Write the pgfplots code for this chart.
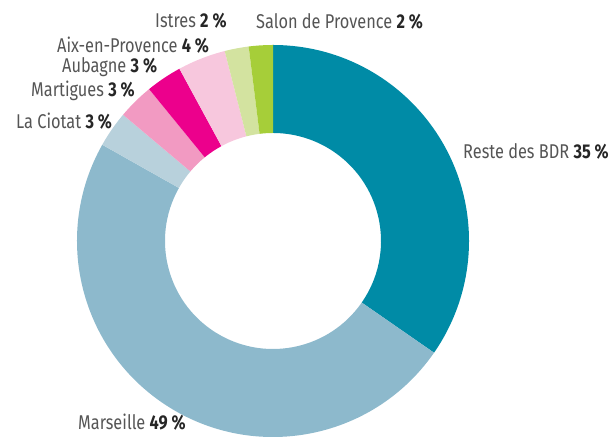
\documentclass[border=0pt]{standalone}
\usepackage{pgfplots}
\usepackage{pgfplotstable}
\pgfplotsset{compat=1.18}
\usepackage{fontspec}
\setmainfont{Fira Sans}[FakeStretch=0.82]
\definecolor{c0}{HTML}{008BA6}
\definecolor{c1}{HTML}{8DB9CC}
\definecolor{c2}{HTML}{B8D1DC}
\definecolor{c3}{HTML}{F29AC2}
\definecolor{c4}{HTML}{EC008C}
\definecolor{c5}{HTML}{F7C7DD}
\definecolor{c6}{HTML}{D3E3A0}
\definecolor{c7}{HTML}{A6CE39}
\definecolor{nametxt}{HTML}{555555}
\definecolor{numtxt}{HTML}{262626}
\pgfplotstableread{
name value
Reste 35
Marseille 49
LaCiotat 3
Martigues 3
Aubagne 3
Aix 4
Istres 2
Salon 2
}\datatable
\tikzset{lbl/.style={font=\fontsize{20}{22}\selectfont, inner sep=0pt, anchor=west}}
\newcommand{\lab}[2]{\textcolor{nametxt}{#1} \textcolor{numtxt}{\bfseries #2~\%}}
\begin{document}
\begin{tikzpicture}
\begin{axis}[hide axis, x=1bp, y=1bp, xmin=0, xmax=613, ymin=0, ymax=437, clip=false]
\path (axis cs:0,0) rectangle (axis cs:613,437);
\def\cum{0}
\pgfplotsforeachungrouped \i in {0,...,7}{%
  \pgfplotstablegetelem{\i}{value}\of\datatable
  \pgfmathsetmacro\aS{90-3.5643564*\cum}%
  \pgfmathsetmacro\cumN{\cum+\pgfplotsretval}%
  \pgfmathsetmacro\aE{90-3.5643564*\cumN}%
  \global\let\cum\cumN
  \edef\temp{\noexpand\fill[c\i, overlay] (axis cs:273,196) ++(\aS:196bp) arc[start angle=\aS, end angle=\aE, radius=196bp] -- ++(\aE:-88bp) arc[start angle=\aE, end angle=\aS, radius=108bp] -- cycle;}%
  \temp
}
\node[lbl, overlay] at (axis cs:155,416) {\lab{Istres}{2}};
\node[lbl, overlay] at (axis cs:256,416) {\lab{Salon de Provence}{2}};
\node[lbl, overlay] at (axis cs:57,392) {\lab{Aix-en-Provence}{4}};
\node[lbl, overlay] at (axis cs:62,370) {\lab{Aubagne}{3}};
\node[lbl, overlay] at (axis cs:31,346) {\lab{Martigues}{3}};
\node[lbl, overlay] at (axis cs:16,316) {\lab{La Ciotat}{3}};
\node[lbl, overlay] at (axis cs:463,286) {\lab{Reste des BDR}{35}};
\node[lbl, overlay] at (axis cs:78,15) {\lab{Marseille}{49}};
\end{axis}
\end{tikzpicture}
\end{document}
